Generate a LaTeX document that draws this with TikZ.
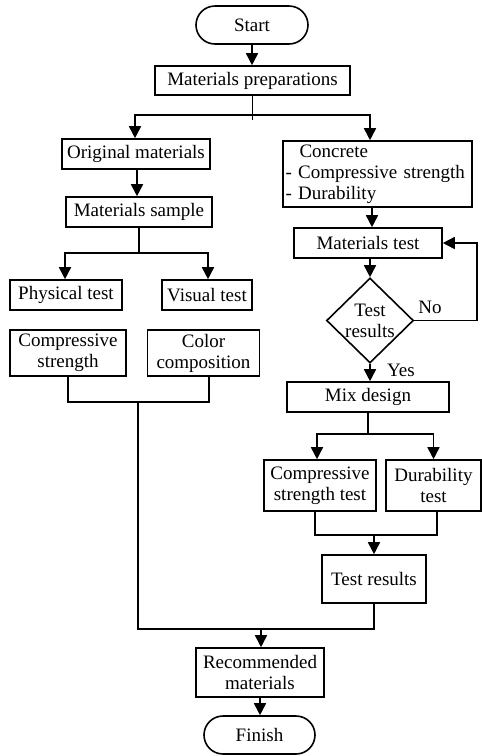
\documentclass[tikz,border=0pt]{standalone}
\usepackage{fontspec}
\setmainfont{Liberation Serif}
\usetikzlibrary{arrows.meta,shapes.geometric}
\begin{document}
\begin{tikzpicture}[x=1pt,y=-1pt,
  line/.style={line width=1.6pt},
  arr/.style={line width=1.6pt,-{Triangle[length=12pt,width=12pt]}},
  box/.style={draw,line width=1.6pt,rectangle,inner sep=1pt,align=center,
    font=\fontsize{19}{21}\selectfont},
  term/.style={box,rounded corners=19pt},
  lbl/.style={inner sep=0pt,font=\fontsize{19}{21}\selectfont,align=center}]
\useasboundingbox (0,0) rectangle (482,756);
% nodes
\node[term,minimum width=112pt,minimum height=38pt] (start) at (252,25) {Start};
\node[box,minimum width=195pt,minimum height=29pt] (prep) at (252.5,80.5) {Materials preparations};
\node[box,minimum width=148pt,minimum height=30pt] (orig) at (136,154) {Original materials};
\node[box,minimum width=189pt,minimum height=66pt,text width=184pt,inner xsep=2.5pt,align=left] (conc) at (377.5,174)
  {\hspace*{14pt}Concrete\\- Compressive strength\\- Durability};
\node[box,minimum width=146pt,minimum height=30pt] (sample) at (139,212) {Materials sample};
\node[box,minimum width=112pt,minimum height=30pt] (phys) at (66,295) {Physical test};
\node[box,minimum width=90pt,minimum height=30pt] (vis) at (207,295) {Visual test};
\node[box,minimum width=116pt,minimum height=46pt] (cs) at (68,353) {Compressive\\strength};
\node[box,minimum width=112pt,minimum height=46pt] (cc) at (203.5,353) {Color\\composition};
\node[box,minimum width=148pt,minimum height=30pt] (mt) at (368,243) {Materials test};
\node[draw,line width=1.6pt,diamond,minimum width=87pt,minimum height=85pt,inner sep=0pt] (dia) at (370,320.5) {};
\node[lbl] (dial) at (dia.center) {Test\\results};
\node[lbl] (no) at (430,307) {No};
\node[lbl] (yes) at (401,370) {Yes};
\node[box,minimum width=162pt,minimum height=30pt] (mix) at (368,397) {Mix design};
\node[box,minimum width=112pt,minimum height=51pt] (cst) at (320,485.5) {Compressive\\strength test};
\node[box,minimum width=95pt,minimum height=51pt] (dt) at (433.5,485.5) {Durability\\test};
\node[box,minimum width=104pt,minimum height=48pt] (tr) at (374,579) {Test results};
\node[box,minimum width=128pt,minimum height=49pt] (rec) at (260,672.5) {Recommended\\materials};
\node[term,minimum width=111pt,minimum height=38pt] (fin) at (259.5,735) {Finish};
% junction coordinates
\coordinate (j1) at (252.5,115);
\coordinate (j2) at (139,253);
\coordinate (j3) at (138,402);
\coordinate (j5) at (261,629);
\coordinate (j6) at (368,434);
\coordinate (j7) at (374,535);
\coordinate (nox) at (477,0);
% connectors
\draw[arr] (start.south) -- (start.south |- prep.north);
\draw[line] (prep.south) -- (j1) -- ++(0,5);
\draw[arr] (j1) -| ([xshift=-1pt]orig.north);
\draw[arr] (j1) -| ([xshift=-7.5pt]conc.north);
\draw[arr] ([xshift=1pt]orig.south) -- ([xshift=1pt]orig.south |- sample.north);
\draw[line] (sample.south) -- (j2);
\draw[arr] (j2) -| ([xshift=-1pt]phys.north);
\draw[arr] (j2) -| ([xshift=1pt]vis.north);
\draw[line] (cs.south) |- ([xshift=5.5pt]cc.south |- j3) -- ([xshift=5.5pt]cc.south);
\draw[line] (j3) |- (j5) -| (tr.south);
\draw[arr] (j5) -- (j5 |- rec.north);
\draw[arr] (rec.south) -- (rec.south |- fin.north);
\draw[arr] ([xshift=-5.5pt]conc.south) -- ([xshift=-5.5pt]conc.south |- mt.north);
\draw[arr] (mt.south -| dia.north) -- (dia.north);
\draw[arr] (dia.east) -| (nox |- mt.east) -- (mt.east);
\draw[arr] (dia.south) -- (dia.south |- mix.north);
\draw[line] (mix.south) -- (j6);
\draw[arr] (j6) -| ([xshift=-3pt]cst.north);
\draw[arr] (j6) -| (dt.north);
\draw[line] ([xshift=-5pt]cst.south) |- ([xshift=3.5pt]dt.south |- j7) -- ([xshift=3.5pt]dt.south);
\draw[arr] (j7) -- (j7 |- tr.north);
\end{tikzpicture}
\end{document}
